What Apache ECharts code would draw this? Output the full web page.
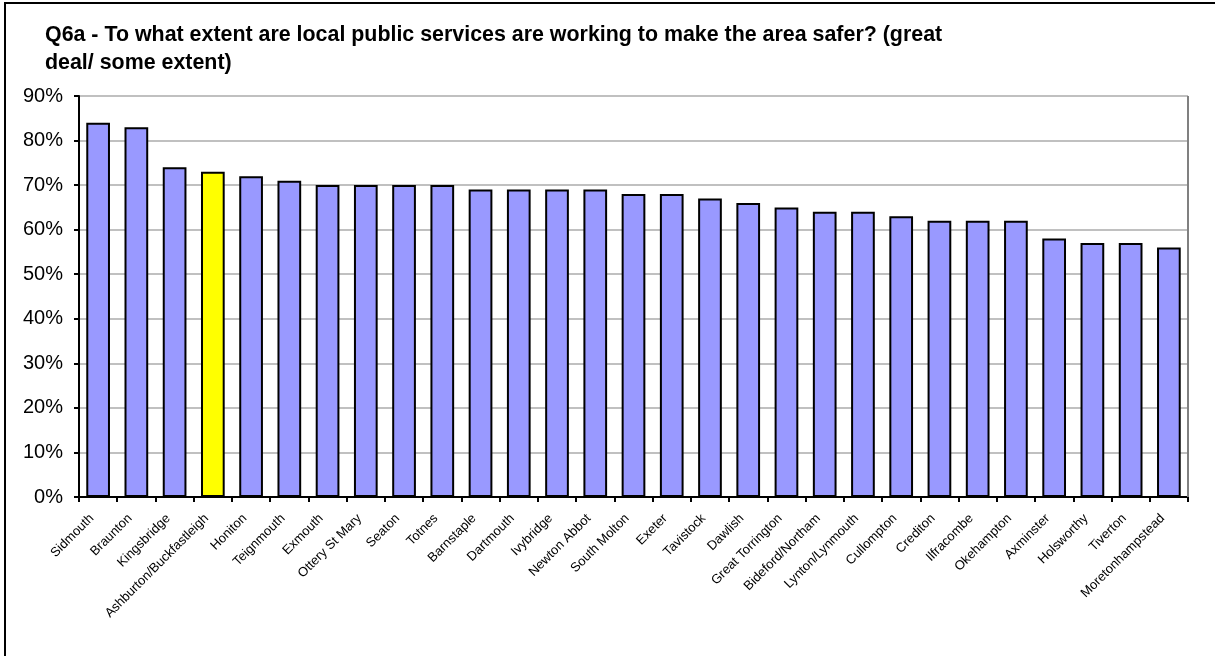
<!DOCTYPE html>
<html>
<head>
<meta charset="utf-8">
<script src="https://cdn.jsdelivr.net/npm/echarts@6/dist/echarts.min.js"></script>
<style>
html,body{margin:0;padding:0;background:#fff;}
#main{width:1215px;height:656px;}
</style>
</head>
<body>
<div id="main"></div>
<script>
const titleLines = ['Q6a - To what extent are local public services are working to make the area safer? (great', 'deal/ some extent)'];
const categories = ['Sidmouth','Braunton','Kingsbridge','Ashburton/Buckfastleigh','Honiton','Teignmouth','Exmouth','Ottery St Mary','Seaton','Totnes','Barnstaple','Dartmouth','Ivybridge','Newton Abbot','South Molton','Exeter','Tavistock','Dawlish','Great Torrington','Bideford/Northam','Lynton/Lynmouth','Cullompton','Crediton','Ilfracombe','Okehampton','Axminster','Holsworthy','Tiverton','Moretonhampstead'];
const values = [84,83,74,73,72,71,70,70,70,70,69,69,69,69,68,68,67,66,65,64,64,63,62,62,62,58,57,57,56];
const highlight = 'Ashburton/Buckfastleigh';
const yTicks = {min:0, max:90, interval:10};

const FONT = '"Liberation Sans", Arial, sans-serif';
const chart = echarts.init(document.getElementById('main'), null, {renderer:'canvas'});
chart.setOption({
  animation:false,
  backgroundColor:'#fff',
  title:{
    text: titleLines.join('\n'),
    left: 40, top: 16,
    textStyle:{fontFamily:FONT, fontSize:21.4, fontWeight:'bold', color:'#000', lineHeight:28}
  },
  graphic:[
    {type:'line', shape:{x1:5, y1:3, x2:1215, y2:3}, style:{stroke:'#000', lineWidth:2}},
    {type:'line', shape:{x1:5, y1:2, x2:5, y2:656}, style:{stroke:'#000', lineWidth:2}},
    {type:'line', shape:{x1:1188, y1:96, x2:1188, y2:497}, style:{stroke:'#808080', lineWidth:2}, z:10}
  ],
  grid:{left:79, right:27, top:96, bottom:159, containLabel:false},
  xAxis:{
    type:'category',
    data: categories,
    boundaryGap:true,
    axisLine:{lineStyle:{color:'#000', width:2}},
    axisTick:{show:true, alignWithLabel:false, length:5, lineStyle:{color:'#000', width:2}},
    axisLabel:{rotate:45, interval:0, margin:13, padding:[0,9,0,0], fontFamily:FONT, fontSize:13, color:'#000'}
  },
  yAxis:{
    type:'value',
    min:yTicks.min, max:yTicks.max, interval:yTicks.interval,
    axisLine:{show:true, lineStyle:{color:'#000', width:2}},
    axisTick:{show:true, length:5, lineStyle:{color:'#000', width:2}},
    axisLabel:{formatter:'{value}%', fontFamily:FONT, fontSize:20, color:'#000', margin:16},
    splitLine:{show:true, lineStyle:{color:'#c0c0c0', width:2}}
  },
  series:[{
    type:'bar',
    data: values.map((v,i)=>({value:v, itemStyle:{color: categories[i]===highlight ? '#ffff00' : '#9999ff'}})),
    barWidth:'62%',
    itemStyle:{borderColor:'#000', borderWidth:2}
  }]
});
</script>
</body>
</html>
